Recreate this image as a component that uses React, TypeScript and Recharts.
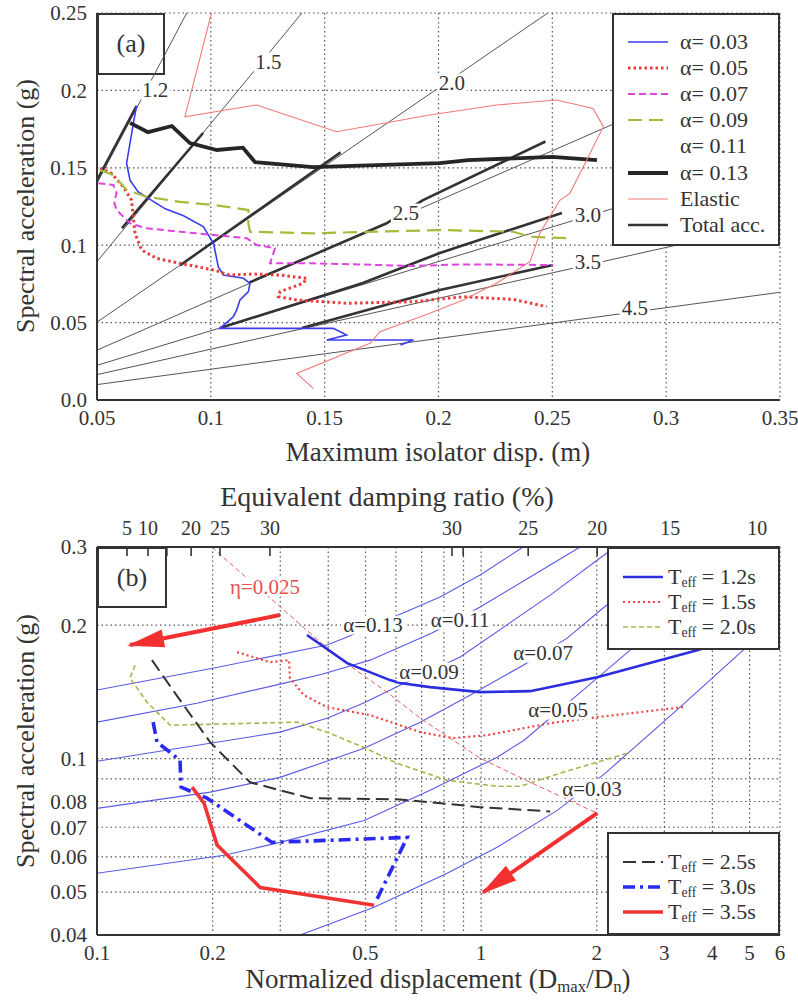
import React from "react";
import { ComposedChart, Line, Scatter, XAxis, YAxis, CartesianGrid } from "recharts";

const FONT = '"Liberation Serif", "Times New Roman", serif';
const INK = "#333";

type Pt = [number, number];
const toXY = (pts: Pt[]) => pts.map(([x, y]) => ({ x, y }));

// ---------- (a) spectral acceleration vs. maximum isolator displacement ----------
const dispTicksA = [0.05, 0.1, 0.15, 0.2, 0.25, 0.3, 0.35];
const accTicksA = [0, 0.05, 0.1, 0.15, 0.2, 0.25];
const accTickTextA = ["0.0", "0.05", "0.1", "0.15", "0.2", "0.25"];

const alpha003A: Pt[] = [
  [0.0674, 0.19], [0.066, 0.179], [0.063, 0.153], [0.0645, 0.142], [0.068, 0.1346],
  [0.074, 0.129], [0.08, 0.1235], [0.088, 0.119], [0.0967, 0.112], [0.1012, 0.101],
  [0.1033, 0.086], [0.1055, 0.0807], [0.1143, 0.0786], [0.1172, 0.0754], [0.1165, 0.07],
  [0.1128, 0.0646], [0.1113, 0.058], [0.1099, 0.0538], [0.104, 0.0463], [0.1538, 0.0463],
  [0.1596, 0.042], [0.1509, 0.0388], [0.189, 0.0388], [0.1833, 0.0355],
];
const alpha005A: Pt[] = [
  [0.0513, 0.1497], [0.0564, 0.1464], [0.0615, 0.1378], [0.0652, 0.129], [0.0667, 0.1077],
  [0.0696, 0.0969], [0.0762, 0.0915], [0.0864, 0.0883], [0.1012, 0.084], [0.1084, 0.0807],
  [0.1187, 0.0814], [0.1304, 0.0807], [0.1421, 0.0786], [0.1406, 0.0754], [0.1304, 0.07],
  [0.1297, 0.0667], [0.1377, 0.0646], [0.1597, 0.0625], [0.189, 0.0635], [0.1962, 0.0646],
  [0.2108, 0.0667], [0.2327, 0.065], [0.2475, 0.0603],
];
const alpha007A: Pt[] = [
  [0.0506, 0.14], [0.0572, 0.1389], [0.0586, 0.1335], [0.0575, 0.128], [0.0586, 0.1227],
  [0.0645, 0.1141], [0.0718, 0.1109], [0.0865, 0.1087], [0.1012, 0.1066], [0.1158, 0.1045],
  [0.1202, 0.1001], [0.1282, 0.098], [0.126, 0.0883], [0.145, 0.0883], [0.1743, 0.0872],
  [0.189, 0.0866], [0.2108, 0.0876], [0.2504, 0.0872],
];
const alpha009A: Pt[] = [
  [0.0513, 0.1486], [0.0572, 0.1453], [0.063, 0.1357], [0.0718, 0.1313], [0.0864, 0.128],
  [0.1012, 0.126], [0.1165, 0.1227], [0.1165, 0.114], [0.1172, 0.1087], [0.145, 0.1077],
  [0.2006, 0.1098], [0.2328, 0.1087], [0.2402, 0.1055], [0.2577, 0.1045],
];
const alpha011A: Pt[] = [];
const alpha013A: Pt[] = [
  [0.0645, 0.179], [0.0724, 0.173], [0.0829, 0.177], [0.0908, 0.166], [0.1027, 0.1615],
  [0.1141, 0.163], [0.1194, 0.1537], [0.1449, 0.1505], [0.2006, 0.153], [0.213, 0.155],
  [0.25, 0.157], [0.2696, 0.155],
];
const elasticA: Pt[] = [
  [0.1003, 0.25], [0.0886, 0.183], [0.1201, 0.1906], [0.1552, 0.1733], [0.1962, 0.1841],
  [0.2255, 0.1906], [0.2519, 0.1938], [0.2679, 0.1884], [0.2724, 0.1766], [0.2651, 0.155],
  [0.2577, 0.1335], [0.2533, 0.129], [0.2445, 0.1077], [0.2402, 0.0893], [0.2255, 0.0754],
  [0.2109, 0.0646], [0.1962, 0.056], [0.1743, 0.0441], [0.1699, 0.0366], [0.1377, 0.0172],
  [0.145, 0.0075],
];
// total acceleration segments
const totalAccA: Pt[][] = [
  [[0.05, 0.142], [0.0674, 0.19]],
  [[0.061, 0.111], [0.0966, 0.1725]],
  [[0.0865, 0.087], [0.157, 0.16]],
  [[0.117, 0.076], [0.177, 0.114], [0.193, 0.129], [0.247, 0.167]],
  [[0.104, 0.0465], [0.1668, 0.0756], [0.2006, 0.095], [0.2542, 0.1208]],
  [[0.14, 0.0465], [0.2006, 0.0711], [0.2503, 0.0872]],
];
// constant-period lines
const periodText = ["1.2", "1.5", "2.0", "2.5", "3.0", "3.5", "4.5"];
const periodLines: Pt[][] = [
  [[0.05, 0.14], [0.0894, 0.25]],
  [[0.05, 0.0894], [0.14, 0.25]],
  [[0.05, 0.0503], [0.248, 0.25]],
  [[0.05, 0.0322], [0.35, 0.2254]],
  [[0.05, 0.0224], [0.35, 0.1565]],
  [[0.05, 0.0164], [0.35, 0.115]],
  [[0.05, 0.00994], [0.35, 0.0696]],
];
const periodLabelAt: Pt[] = [
  [0.0755, 0.2003], [0.1253, 0.2184], [0.2059, 0.2048], [0.1857, 0.1208],
  [0.2656, 0.1195], [0.2656, 0.0891], [0.2863, 0.0594],
];

const legendA = ["α= 0.03", "α= 0.05", "α= 0.07", "α= 0.09", "α= 0.11", "α= 0.13", "Elastic", "Total acc."];
const seriesA: Pt[][] = [alpha003A, alpha005A, alpha007A, alpha009A, alpha011A, alpha013A, elasticA];

type Stroke = { color: string; width: number; dash?: string };
const strokeA: (Stroke | null)[] = [
  { color: "#3c3cf0", width: 1.6 },
  { color: "#ea3b3b", width: 3, dash: "2.5 3" },
  { color: "#e044e0", width: 2, dash: "7 4" },
  { color: "#a6bb3a", width: 2.2, dash: "14 7" },
  null,
  { color: "#262626", width: 3.8 },
  { color: "#f27a7a", width: 1.1 },
  { color: "#333", width: 2.6 },
];
const periodStroke: Stroke = { color: "#555", width: 1 };

// ---------- (b) spectral acceleration vs. normalized displacement ----------
const dispTicksB = [0.1, 0.2, 0.3, 0.4, 0.5, 0.6, 0.7, 0.8, 0.9, 1, 2, 3, 4, 5, 6];
const dispTickTextB = ["0.1", "0.2", "", "", "0.5", "", "", "", "", "1", "2", "3", "4", "5", "6"];
const accTicksB = [0.04, 0.05, 0.06, 0.07, 0.08, 0.09, 0.1, 0.2, 0.3];
const accTickTextB = ["0.04", "0.05", "0.06", "0.07", "0.08", "", "0.1", "0.2", "0.3"];
const dampingTickAt = [0.1197, 0.1358, 0.152, 0.1758, 0.209, 0.282, 0.84, 0.898, 1.326, 2.005, 3.107, 5.233];
const dampingTickText = ["5", "10", "", "20", "25", "30", "30", "", "25", "20", "15", "10"];

const alphaCurvesB: Pt[][] = [
  [[0.1, 0.1427], [0.2017, 0.16], [0.397, 0.1803], [0.448, 0.1879], [0.653, 0.2162], [0.782, 0.2313], [0.994, 0.2594], [1.287, 0.3]],
  [[0.1, 0.1208], [0.182, 0.1333], [0.2996, 0.1472], [0.385, 0.155], [0.514, 0.1667], [0.745, 0.1919], [0.994, 0.2196], [1.513, 0.2732], [1.81, 0.3]],
  [[0.1, 0.0986], [0.197, 0.1083], [0.2996, 0.1147], [0.397, 0.1233], [0.493, 0.1333], [0.615, 0.1464], [0.882, 0.1694], [1.513, 0.2336], [2.041, 0.2833], [2.23, 0.3]],
  [[0.1, 0.0772], [0.197, 0.084], [0.2996, 0.0907], [0.496, 0.1055], [0.694, 0.1208], [0.936, 0.139], [1.287, 0.1624], [1.675, 0.1869], [2.078, 0.2185], [2.594, 0.2553], [3.27, 0.3]],
  [[0.1, 0.0551], [0.2142, 0.0605], [0.2996, 0.0647], [0.496, 0.0725], [0.7365, 0.0848], [1.101, 0.1007], [1.294, 0.11], [1.778, 0.139], [2.443, 0.1756], [5.06, 0.3]],
  [[0.338, 0.04], [0.5265, 0.0462], [0.816, 0.0551], [1.101, 0.0631], [1.578, 0.0764], [2.103, 0.0926], [3.297, 0.1306], [4.812, 0.1756], [6, 0.209]],
];
const alphaText = ["α=0.13", "α=0.11", "α=0.09", "α=0.07", "α=0.05", "α=0.03"];
const alphaLabelAt: Pt[] = [
  [0.523, 0.2], [0.882, 0.2053], [0.732, 0.1567], [1.45, 0.1729], [1.587, 0.1286], [1.945, 0.0857],
];

const tEff12: Pt[] = [[0.352, 0.1899], [0.448, 0.1641], [0.579, 0.1503], [0.615, 0.148], [0.7365, 0.1449], [0.994, 0.1412], [1.342, 0.1419], [2.005, 0.1526], [3.652, 0.1756], [4.5, 0.186]];
const tEff15: Pt[] = [[0.2315, 0.1738], [0.282, 0.165], [0.3162, 0.1667], [0.318, 0.1518], [0.346, 0.139], [0.397, 0.1306], [0.514, 0.1253], [0.694, 0.1147], [0.8455, 0.1112], [1.037, 0.1129], [1.513, 0.1202], [2.005, 0.124], [3.357, 0.1306]];
const tEff20: Pt[] = [[0.1256, 0.1624], [0.1219, 0.1518], [0.135, 0.134], [0.155, 0.1189], [0.3318, 0.1208], [0.397, 0.1147], [0.493, 0.1061], [0.604, 0.0976], [0.816, 0.0893], [1.101, 0.0866], [1.264, 0.0866], [1.635, 0.0931], [2.4, 0.1028]];
const tEff25: Pt[] = [[0.139, 0.1667], [0.1645, 0.1354], [0.197, 0.1089], [0.2503, 0.0884], [0.3587, 0.0814], [0.604, 0.0809], [0.7365, 0.0797], [0.994, 0.0777], [1.513, 0.076]];
const tEff30: Pt[] = [[0.14, 0.1208], [0.1433, 0.1089], [0.1645, 0.0991], [0.1655, 0.0862], [0.1934, 0.0814], [0.2856, 0.0647], [0.642, 0.0664], [0.5296, 0.0472]];
const tEff35: Pt[] = [[0.1768, 0.0862], [0.19, 0.0793], [0.2054, 0.0638], [0.266, 0.0512], [0.5265, 0.0467]];
const tEffNames = ["1.2", "1.5", "2.0", "2.5", "3.0", "3.5"];
const tEffSeries: Pt[][] = [tEff12, tEff15, tEff20, tEff25, tEff30, tEff35];
const tEffStroke: Stroke[] = [
  { color: "#2c2ce0", width: 2.6 },
  { color: "#ee4444", width: 2.2, dash: "2 3" },
  { color: "#a9b54a", width: 1.6, dash: "5 3" },
  { color: "#333", width: 2, dash: "13 6" },
  { color: "#2a2af2", width: 3.6, dash: "12 5 3 5" },
  { color: "#f03434", width: 3.6 },
];

const etaLine: Pt[] = [[0.199, 0.3], [0.2357, 0.2634], [0.2943, 0.2231], [0.381, 0.1831], [0.464, 0.16], [0.569, 0.1412], [0.694, 0.1233], [0.8455, 0.11], [0.994, 0.1002], [1.342, 0.0884], [2.005, 0.0753]];
const etaText = ["η=0.025"];
const etaLabelAt: Pt[] = [[0.2739, 0.2437]];
const arrowsB: Pt[][] = [
  [[0.2996, 0.2107], [0.1219, 0.1803]],
  [[2.005, 0.0753], [1.012, 0.0499]],
];

// ---------- helpers ----------
const glyphEm: Record<string, number> = { ".": 0.25, "=": 0.564, "α": 0.55, "η": 0.5 };
const textEm = (s: string) => [...s].reduce((w, c) => w + (glyphEm[c] ?? 0.5), 0);

const tagShape = (size: number, color: string) => (props: any) => {
  const { cx, cy, payload } = props;
  if (!Number.isFinite(cx) || !Number.isFinite(cy)) return <g />;
  const w = textEm(payload.text) * size + 4;
  return (
    <g>
      <rect x={cx - w / 2} y={cy - size * 0.45} width={w} height={size * 0.9} fill="#fff" />
      <text x={cx} y={cy} dy="0.35em" textAnchor="middle" fontFamily={FONT} fontSize={size} fill={color}>
        {payload.text}
      </text>
    </g>
  );
};

const labelRows = (text: string[], at: Pt[]) => text.map((t, i) => ({ x: at[i][0], y: at[i][1], text: t }));

function makeArrowTip(color: string) {
  let tail: { x: number; y: number } | null = null;
  return (props: any) => {
    const { cx, cy, index } = props;
    if (index === 0) {
      tail = { x: cx, y: cy };
      return <g key={`tail-${index}`} />;
    }
    const prev = props.points?.[index - 1] ?? tail;
    if (!prev) return <g key={`tip-${index}`} />;
    const a = Math.atan2(cy - prev.y, cx - prev.x);
    const L = 34;
    const H = 9;
    const tx = cx + Math.cos(a) * 3;
    const ty = cy + Math.sin(a) * 3;
    const bx = cx - Math.cos(a) * L;
    const by = cy - Math.sin(a) * L;
    const px = -Math.sin(a) * H;
    const py = Math.cos(a) * H;
    return (
      <polygon
        key={`tip-${index}`}
        points={`${tx},${ty} ${bx + px},${by + py} ${bx - px},${by - py}`}
        fill={color}
      />
    );
  };
}
const arrowTips = arrowsB.map(() => makeArrowTip("#f23030"));

function DampingTick(props: any) {
  const { x, y, payload } = props;
  const label = dampingTickText[dampingTickAt.indexOf(payload.value)];
  return (
    <g>
      <line x1={x} x2={x} y1={y + 12} y2={y + 21} stroke={INK} strokeWidth={1.6} />
      <text x={x} y={y} textAnchor="middle" fontFamily={FONT} fontSize={20} fill={INK}>
        {label}
      </text>
    </g>
  );
}

const tickStyle = { fill: INK, fontSize: 21, fontFamily: FONT };
const frame = { stroke: INK, strokeWidth: 2 };
const gridProps = { stroke: "#555", strokeDasharray: "1.5 3", strokeWidth: 1.2 };

function seriesLine(key: string, pts: Pt[], s: Stroke, extra: any = {}) {
  return (
    <Line
      key={key}
      data={toXY(pts)}
      dataKey="y"
      type="linear"
      stroke={s.color}
      strokeWidth={s.width}
      strokeDasharray={s.dash}
      dot={false}
      activeDot={false}
      isAnimationActive={false}
      {...extra}
    />
  );
}

function ChartA() {
  return (
    <ComposedChart width={798} height={470} margin={{ top: 13, right: 18, bottom: 0, left: 0 }}>
      <CartesianGrid {...gridProps} />
      <XAxis
        dataKey="x" type="number" domain={[0.05, 0.35]} ticks={dispTicksA} allowDataOverflow interval={0}
        height={70} tickLine={false} tickSize={0} tickMargin={10} axisLine={frame} tick={tickStyle}
        tickFormatter={(v: number) => String(v)}
      />
      <XAxis
        xAxisId="top" orientation="top" dataKey="x" type="number" domain={[0.05, 0.35]} allowDataOverflow
        height={0} tick={false} tickLine={false} axisLine={frame}
      />
      <YAxis
        type="number" domain={[0, 0.25]} ticks={accTicksA} allowDataOverflow interval={0} width={97}
        tickLine={false} tickSize={0} tickMargin={10} axisLine={frame} tick={tickStyle}
        tickFormatter={(v: number) => accTickTextA[accTicksA.indexOf(v)]}
      />
      <YAxis
        yAxisId="right" orientation="right" type="number" domain={[0, 0.25]} allowDataOverflow
        width={0} tick={false} tickLine={false} axisLine={frame}
      />
      {periodLines.map((seg, i) => seriesLine(`T${i}`, seg, periodStroke))}
      {totalAccA.map((seg, i) => seriesLine(`acc${i}`, seg, strokeA[7] as Stroke))}
      {seriesA.map((pts, i) =>
        pts.length && strokeA[i]
          ? seriesLine(`a${i}`, pts, strokeA[i] as Stroke, i === 6 ? { xAxisId: "top", yAxisId: "right" } : {})
          : null
      )}
      <Scatter data={labelRows(periodText, periodLabelAt)} dataKey="y" shape={tagShape(21, INK)} isAnimationActive={false} />
    </ComposedChart>
  );
}

function ChartB() {
  return (
    <ComposedChart width={798} height={530} margin={{ top: 0, right: 18, bottom: 0, left: 0 }}>
      <CartesianGrid {...gridProps} />
      <XAxis
        dataKey="x" type="number" scale="log" domain={[0.1, 6]} ticks={dispTicksB} allowDataOverflow interval={0}
        height={65} tickLine={false} tickSize={0} tickMargin={10} axisLine={frame} tick={tickStyle}
        tickFormatter={(v: number) => dispTickTextB[dispTicksB.indexOf(v)]}
      />
      <XAxis
        xAxisId="top" orientation="top" dataKey="x" type="number" scale="log" domain={[0.1, 6]}
        ticks={dampingTickAt} allowDataOverflow interval={0} height={77} tickLine={false} tickSize={0}
        tickMargin={12} axisLine={frame} tick={(p: any) => <DampingTick {...p} />}
      />
      <YAxis
        type="number" scale="log" domain={[0.04, 0.3]} ticks={accTicksB} allowDataOverflow interval={0} width={97}
        tickLine={false} tickSize={0} tickMargin={10} axisLine={frame} tick={tickStyle}
        tickFormatter={(v: number) => accTickTextB[accTicksB.indexOf(v)]}
      />
      <YAxis
        yAxisId="right" orientation="right" type="number" scale="log" domain={[0.04, 0.3]} allowDataOverflow
        width={0} tick={false} tickLine={false} axisLine={frame}
      />
      {alphaCurvesB.map((pts, i) =>
        seriesLine(`al${i}`, pts, { color: "#5a5ae6", width: 1.1 }, i === 5 ? { yAxisId: "right" } : {})
      )}
      {seriesLine("eta", etaLine, { color: "#e86060", width: 1, dash: "5 3" }, { xAxisId: "top" })}
      {tEffSeries.map((pts, i) => seriesLine(`te${i}`, pts, tEffStroke[i]))}
      {arrowsB.map((pts, i) => seriesLine(`ar${i}`, pts, { color: "#f23030", width: 4 }, { dot: arrowTips[i] }))}
      <Scatter data={labelRows(alphaText, alphaLabelAt)} dataKey="y" shape={tagShape(21, INK)} isAnimationActive={false} />
      <Scatter data={labelRows(etaText, etaLabelAt)} dataKey="y" shape={tagShape(21, "#e85050")} isAnimationActive={false} />
    </ComposedChart>
  );
}

function Sample({ s }: { s: Stroke | null }) {
  return (
    <svg width={56} height={26} style={{ display: "block", flex: "none" }}>
      {s && (
        <line x1={14} x2={54} y1={13} y2={13} stroke={s.color} strokeWidth={s.width} strokeDasharray={s.dash} />
      )}
    </svg>
  );
}

function LegendBox(props: {
  left: number; top: number; width: number; height: number;
  first: number; step: number; textLeft: number;
  rows: { label: React.ReactNode; stroke: Stroke | null }[];
}) {
  const { left, top, width, height, first, step, textLeft, rows } = props;
  return (
    <div
      style={{
        position: "absolute", left, top, width, height, boxSizing: "border-box",
        border: `2px solid ${INK}`, background: "#fff", fontFamily: FONT, color: INK,
      }}
    >
      {rows.map((r, i) => (
        <div key={i} style={{ position: "absolute", left: 0, top: first + i * step - 13, height: 26, display: "flex", alignItems: "center" }}>
          <Sample s={r.stroke} />
          <span style={{ position: "absolute", left: textLeft, fontSize: 22, lineHeight: 1, whiteSpace: "nowrap" }}>{r.label}</span>
        </div>
      ))}
    </div>
  );
}

const sub: React.CSSProperties = { fontSize: "0.62em", position: "relative", top: "0.25em" };

const tEffLabel = (v: string) => (
  <>
    T<span style={sub}>eff</span> = {v}s
  </>
);

function PanelTag({ left, top, width, height, text }: { left: number; top: number; width: number; height: number; text: string }) {
  return (
    <div
      style={{
        position: "absolute", left, top, width, height, boxSizing: "border-box", border: `2px solid ${INK}`,
        display: "flex", alignItems: "center", justifyContent: "center", fontFamily: FONT, fontSize: 26, color: INK,
      }}
    >
      {text}
    </div>
  );
}

const titleBase: React.CSSProperties = {
  position: "absolute", fontFamily: FONT, color: INK, whiteSpace: "nowrap", lineHeight: 1,
};

export default function App() {
  return (
    <div style={{ position: "absolute", left: 0, top: 0, width: 798, height: 1000, background: "#fff", overflow: "hidden" }}>
      <PanelTag left={97} top={13} width={68} height={62} text="(a)" />
      <PanelTag left={97} top={547} width={70} height={61} text="(b)" />
      <div style={{ position: "absolute", left: 0, top: 0 }}>
        <ChartA />
      </div>
      <div style={{ position: "absolute", left: 0, top: 470 }}>
        <ChartB />
      </div>

      <div style={{ ...titleBase, left: 26, top: 206, fontSize: 26, transform: "translate(-50%, -50%) rotate(-90deg)" }}>
        Spectral acceleration (g)
      </div>
      <div style={{ ...titleBase, left: 438, top: 452, fontSize: 27, transform: "translate(-50%, -50%)" }}>
        Maximum isolator disp. (m)
      </div>
      <div style={{ ...titleBase, left: 387, top: 497, fontSize: 28, transform: "translate(-50%, -50%)" }}>
        Equivalent damping ratio (%)
      </div>
      <div style={{ ...titleBase, left: 26, top: 741, fontSize: 26, transform: "translate(-50%, -50%) rotate(-90deg)" }}>
        Spectral acceleration (g)
      </div>
      <div style={{ ...titleBase, left: 438, top: 979, fontSize: 27, transform: "translate(-50%, -50%)" }}>
        Normalized displacement (D<span style={sub}>max</span>/D<span style={sub}>n</span>)
      </div>

      <LegendBox
        left={612} top={13} width={168} height={233} first={27} step={26.1} textLeft={66}
        rows={legendA.map((label, i) => ({ label, stroke: strokeA[i] }))}
      />
      <LegendBox
        left={607} top={547} width={173} height={103} first={28} step={25} textLeft={59}
        rows={tEffNames.slice(0, 3).map((v, i) => ({ label: tEffLabel(v), stroke: tEffStroke[i] }))}
      />
      <LegendBox
        left={607} top={832} width={173} height={103} first={28} step={25} textLeft={59}
        rows={tEffNames.slice(3).map((v, i) => ({ label: tEffLabel(v), stroke: tEffStroke[i + 3] }))}
      />
    </div>
  );
}
